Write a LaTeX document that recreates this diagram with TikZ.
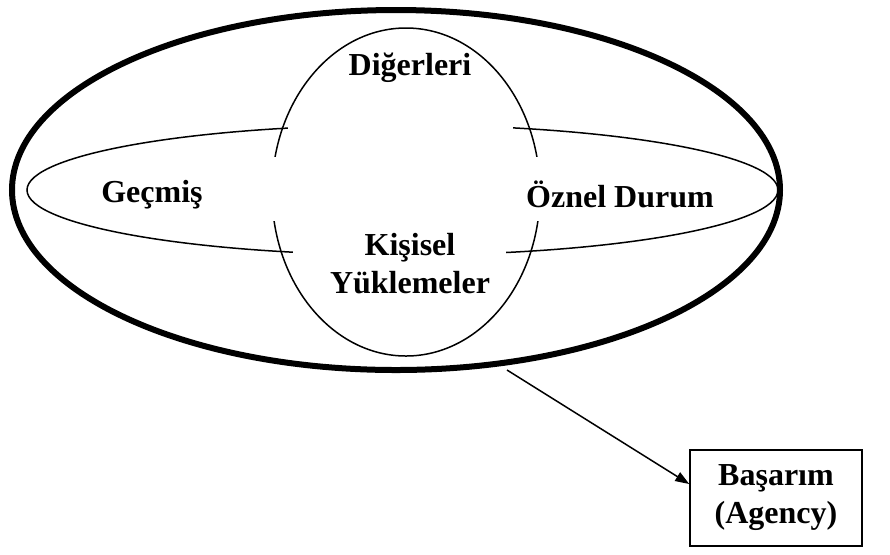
\documentclass[tikz,border=0pt]{standalone}
\usepackage{fontspec}
\setmainfont{Liberation Serif}
\usetikzlibrary{arrows.meta,shapes.geometric}

\begin{document}
\begin{tikzpicture}[x=0.5pt, y=-0.5pt]
\useasboundingbox (0,0) rectangle (890,554);

\tikzset{
    label/.style={font=\fontsize{16}{19}\selectfont\bfseries, align=center},
    ring/.style={draw, ellipse, inner sep=0pt, line width=0.75pt},
    gap/.style={fill=white, draw=none}
}

% outer frame
\node[ring, line width=3pt, minimum width=384pt, minimum height=180pt] (world) at (396,190) {};

% inner ellipses
\node[ring, minimum width=375.5pt, minimum height=65pt] (flat) at (402.5,190) {};
\node[ring, minimum width=134pt, minimum height=164pt] (tall) at (406,192) {};

% breaks in the lines
\fill[gap] (288,116) rectangle (513,157);
\fill[gap] (268,157) rectangle (546,221);
\fill[gap] (293,221) rectangle (506,262);

\begin{scope}[every node/.style={label}]
    \node (others) at (410,68) {Diğerleri};
    \node (past) at (152,195) {Geçmiş};
    \node (subjective) at (620,194) {Öznel Durum};
    \node (personal) at (410,264) {Kişisel\\Yüklemeler};
    \node[draw, line width=0.75pt, minimum width=86pt, minimum height=48pt] (agency) at (776,498) {Başarım\\(Agency)};
\end{scope}

\coordinate (from) at (507,370);
\draw[-{Triangle[length=7pt,width=5pt]}, line width=0.75pt] (from) -- ([yshift=7pt]agency.west);

\end{tikzpicture}
\end{document}
